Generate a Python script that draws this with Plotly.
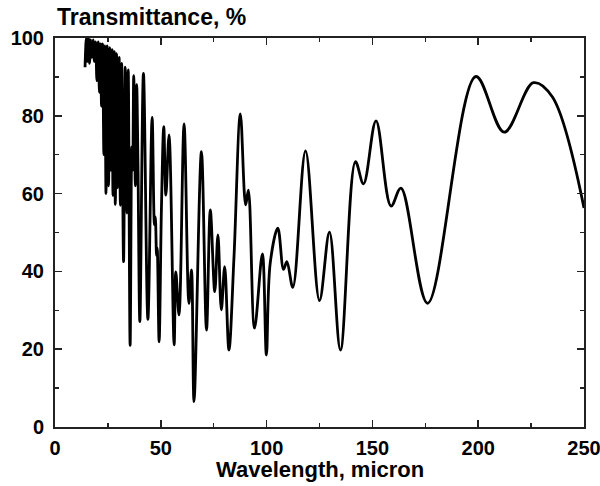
import plotly.graph_objects as go

# wavelength (micron) and transmittance (%) (extrema & shoulders)
wavelength = [
    14.2, 14.8, 15.3, 15.8, 16.3, 16.9, 17.4, 18.0, 18.6, 19.2, 19.8, 20.4, 21.0, 21.5, 22.0,
    22.5, 23.1, 23.6, 24.1, 24.7, 25.3, 25.9, 26.4, 27.0, 27.4, 28.0, 28.5, 29.1, 29.6, 30.3,
    30.9, 31.5, 32.4, 33.2, 34.0, 34.6, 35.5, 36.3, 36.7, 37.2, 38.0, 38.6, 39.2, 40.1, 41.8,
    43.9, 45.9, 47.0, 47.4, 48.0, 48.3, 49.2, 50.3, 51.4, 52.4, 53.9, 56.3, 57.1, 58.6, 61.0,
    63.3, 64.5, 65.7, 69.2, 71.6, 73.4, 75.5, 77.0, 78.6, 80.2, 82.2, 84.6, 87.6, 90.1, 91.4,
    94.3, 98.0, 99.9, 101.7, 105.3, 108.0, 109.6, 112.4, 118.4, 125.0, 129.7, 134.9, 142.0, 145.8,
    151.7, 158.8, 163.5, 176.1, 198.9, 212.3, 226.1, 235.0, 250.0,
]
transmittance = [
    92.5, 100, 94, 100, 93.5, 99.5, 95, 99.5, 94, 99, 89, 99, 86, 98.5, 82.5,
    98.5, 70, 98, 60, 98, 62, 97.5, 66, 97, 59.5, 96.5, 57.2, 96, 61.5, 95,
    57, 93.5, 42.5, 92.5, 55, 91.8, 21, 72, 66, 90.3, 62, 88, 68, 27.1, 90.9,
    27.7, 79.6, 52, 54, 44, 46, 21.9, 56.2, 77.2, 59.6, 75.1, 21.1, 39.9, 28.8, 77.9,
    31.8, 40.4, 6.5, 70.8, 24.9, 55.8, 34.8, 49.4, 30.1, 41.2, 19.8, 43.8, 80.5, 57.1, 60.9,
    25.4, 44.5, 18.5, 42.1, 51.1, 40.5, 42.5, 35.9, 71.0, 32.5, 50.1, 19.8, 68.2, 62.5,
    78.7, 56.8, 61.4, 31.8, 90.1, 75.8, 88.5, 84.9, 56.3,
]

x_ticks = [0, 50, 100, 150, 200, 250]
y_ticks = [0, 20, 40, 60, 80, 100]

FONT = "Liberation Sans, Arial, sans-serif"

fig = go.Figure()
fig.add_trace(go.Scatter(
    x=wavelength, y=transmittance, mode="lines",
    line=dict(color="black", width=2.8, shape="spline", smoothing=1.0),
    showlegend=False, hoverinfo="skip",
))

axis_common = dict(
    showgrid=False, zeroline=False, showline=True, linecolor="#222", linewidth=2,
    mirror="allticks", ticks="inside", ticklen=7, tickwidth=1.5, tickcolor="#222",
    tickfont=dict(family=FONT, size=20, color="black", weight="bold"),
    automargin=False, ticklabeloverflow="allow",
)

fig.update_xaxes(range=[0, 250], tickvals=x_ticks, ticklabelstandoff=2,
                 minor=dict(dtick=25, ticks="inside", ticklen=4, tickwidth=1.5, tickcolor="#222"),
                 **axis_common)
fig.update_yaxes(range=[0, 100], tickvals=y_ticks, ticklabelstandoff=5,
                 minor=dict(dtick=10, ticks="inside", ticklen=4, tickwidth=1.5, tickcolor="#222"),
                 **axis_common)

fig.add_annotation(text="<b>Transmittance, %</b>", xref="paper", yref="paper",
                   x=0, y=1, xanchor="left", yanchor="middle", yshift=21, xshift=0,
                   showarrow=False, font=dict(family=FONT, size=23, color="black"))
fig.add_annotation(text="<b>Wavelength, micron</b>", xref="paper", yref="paper",
                   x=0.501, y=0, xanchor="center", yanchor="middle", yshift=-42,
                   showarrow=False, font=dict(family=FONT, size=22, color="black"))

fig.update_layout(
    width=600, height=486,
    margin=dict(l=55, r=16, t=38, b=59),
    paper_bgcolor="white", plot_bgcolor="white",
)

# remove the browser's default body margin so the figure sits at the window origin
fig.write_html("out.html",
               config={"displayModeBar": False, "staticPlot": True},
               post_script="document.body.style.margin='0';document.body.style.overflow='hidden';")
